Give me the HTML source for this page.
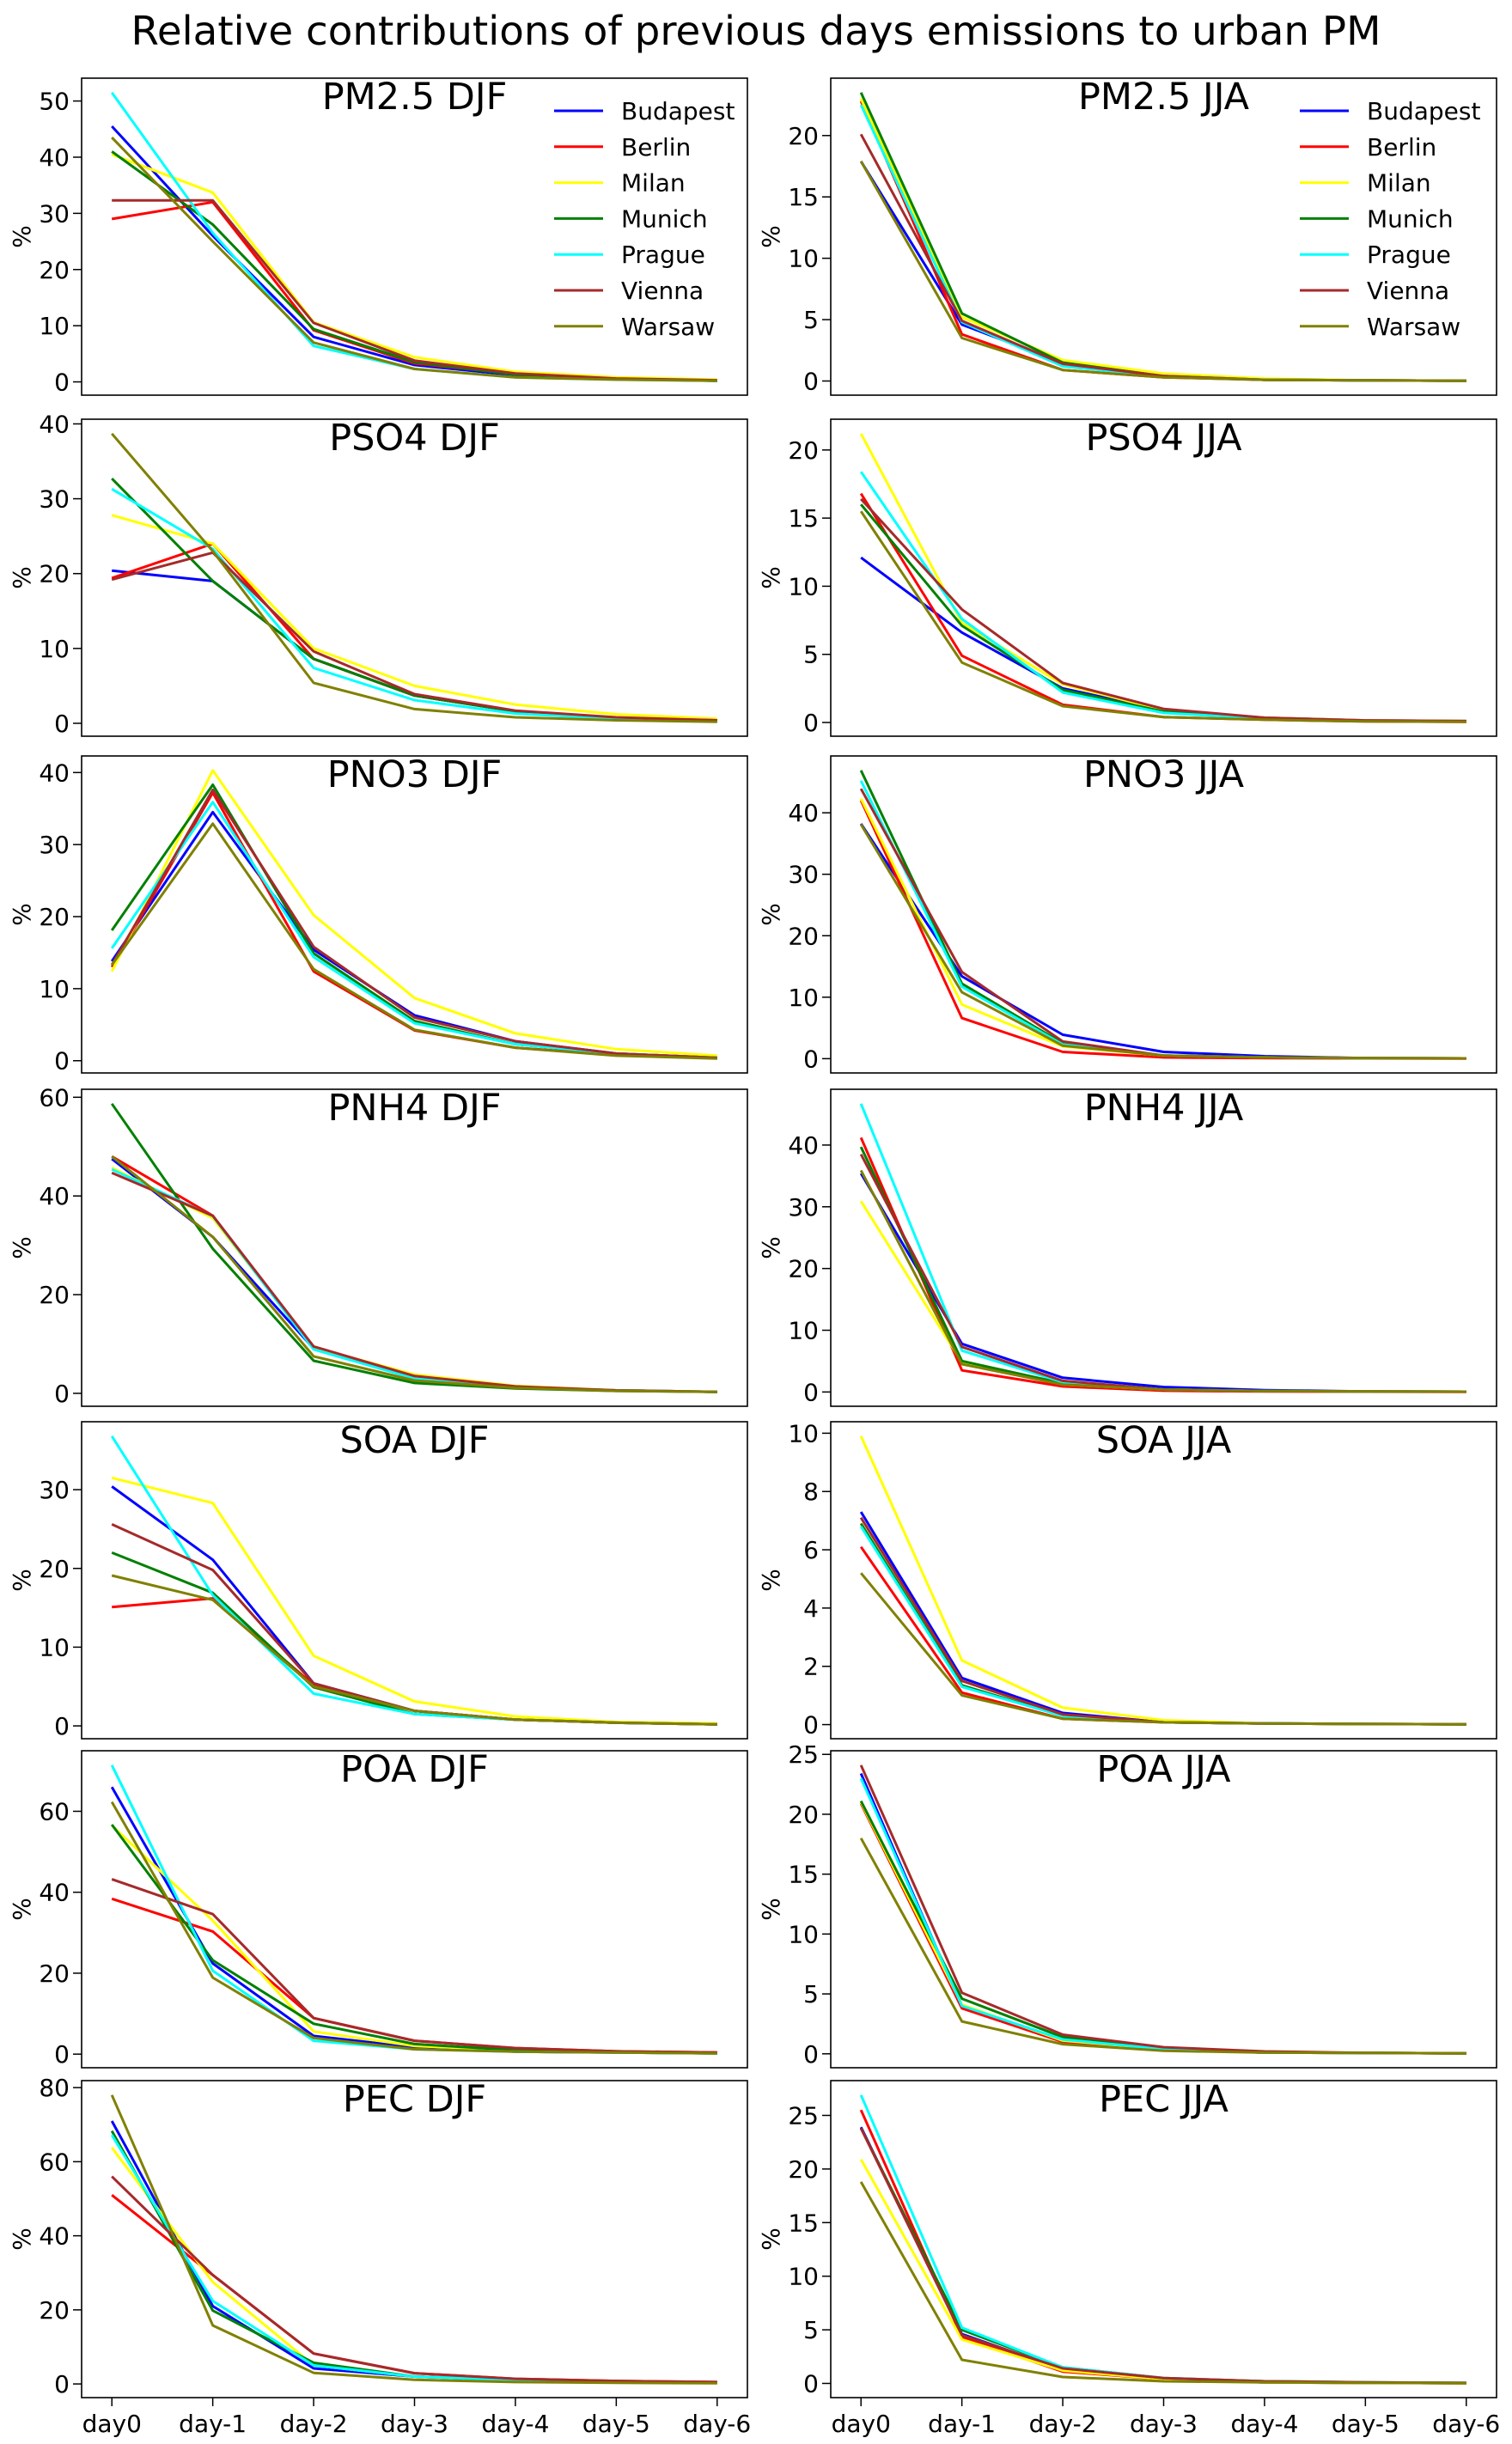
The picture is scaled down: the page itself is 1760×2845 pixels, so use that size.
<!DOCTYPE html>
<html><head><meta charset="utf-8"><title>Relative contributions</title>
<style>
html,body{margin:0;padding:0;background:#fff;}
svg{display:block;font-family:"DejaVu Sans","Liberation Sans",sans-serif;}
</style></head>
<body>
<svg id="fig" width="1760" height="2845" viewBox="0 0 1760 2845" xmlns="http://www.w3.org/2000/svg">
<rect width="1760" height="2845" fill="#fff"/>
<text x="880" y="52" font-size="46" text-anchor="middle" textLength="1455" lengthAdjust="spacingAndGlyphs">Relative contributions of previous days emissions to urban PM</text>
</svg>
<script>
const days = ["day0","day-1","day-2","day-3","day-4","day-5","day-6"];
const cities = ["Budapest","Berlin","Milan","Munich","Prague","Vienna","Warsaw"];
const cityColors = ["#0000ff","#ff0000","#ffff00","#008000","#00ffff","#a52a2a","#808000"];

// series: one row per city (Budapest, Berlin, Milan, Munich, Prague, Vienna, Warsaw), values day0..day-6
const pm25_djf = [[45.5,26,8,3,1.2,0.5,0.2],[29,32,9.2,3.3,1.4,0.6,0.3],[40.5,33.7,10.6,4.4,1.8,0.8,0.4],[41,28,9.4,3.5,1.3,0.5,0.2],[51.5,26.5,6.4,2.3,0.8,0.4,0.2],[32.3,32.3,10.5,3.8,1.5,0.6,0.3],[43.5,25,7,2.3,0.8,0.4,0.2]];
const pm25_jja = [[17.9,4.6,1.5,0.4,0.1,0.05,0.02],[22.8,3.8,0.9,0.3,0.1,0.05,0.02],[23,5.2,1.7,0.6,0.2,0.05,0.02],[23.5,5.5,1.5,0.4,0.1,0.05,0.02],[22.5,4.8,1.2,0.4,0.1,0.05,0.02],[20.1,4.9,1.4,0.4,0.1,0.05,0.02],[17.9,3.5,0.9,0.3,0.1,0.05,0.02]];
const pso4_djf = [[20.4,19,8.6,3.7,1.6,0.7,0.4],[19.4,24,8.6,3.7,1.6,0.7,0.4],[27.8,24,10,5,2.5,1.2,0.6],[32.7,19,8.6,3.7,1.6,0.7,0.4],[31.3,23.3,7.4,3.1,1.3,0.6,0.3],[19.2,22.8,9.6,3.9,1.7,0.8,0.4],[38.7,23,5.4,1.9,0.8,0.4,0.2]];
const pso4_jja = [[12.1,6.6,2.5,0.9,0.35,0.15,0.1],[16.8,4.9,1.3,0.4,0.2,0.08,0.05],[21.2,7.3,2.8,0.9,0.35,0.15,0.1],[16,7.1,2.4,0.8,0.3,0.12,0.08],[18.4,7.6,2.2,0.7,0.3,0.12,0.08],[16.4,8.3,2.9,1,0.35,0.15,0.1],[15.5,4.4,1.2,0.4,0.2,0.08,0.05]];
const pno3_djf = [[13.8,34.5,15.4,6.3,2.7,1,0.4],[13,37.2,12.4,4.2,1.8,0.8,0.4],[12.4,40.3,20.2,8.7,3.8,1.6,0.7],[18.1,38.3,14.9,5.5,2.3,1,0.4],[15.6,35.9,14.4,5.2,2.3,1,0.4],[13.3,37.6,15.8,6,2.7,1,0.4],[13.3,32.9,12.7,4.3,1.8,0.7,0.3]];
const pno3_jja = [[38.2,13.4,3.9,1.1,0.4,0.1,0.05],[42,6.6,1.1,0.2,0.1,0.05,0.02],[42.3,8.8,2,0.5,0.2,0.1,0.05],[46.9,12.2,2.5,0.5,0.2,0.1,0.05],[45.2,11.7,2.3,0.5,0.2,0.1,0.05],[43.9,14.1,2.8,0.5,0.2,0.1,0.05],[38.1,10.8,2.1,0.5,0.2,0.1,0.05]];
const pnh4_djf = [[47.5,31.7,9.1,3.3,1.3,0.6,0.3],[48,36,9.3,3.2,1.3,0.6,0.3],[45.7,35.5,9.3,3.8,1.5,0.6,0.3],[58.7,29.3,6.6,2.1,1,0.5,0.3],[45.4,35.9,8.9,3,1.2,0.6,0.3],[44.7,36,9.5,3.5,1.4,0.6,0.3],[48,31.7,7.5,2.6,1.1,0.5,0.3]];
const pnh4_jja = [[35.4,7.8,2.3,0.8,0.3,0.1,0.05],[41.2,3.5,0.9,0.2,0.1,0.05,0.02],[30.9,4.8,1.2,0.4,0.15,0.1,0.05],[39.7,5,1.4,0.4,0.15,0.1,0.05],[46.7,6.7,1.6,0.4,0.15,0.1,0.05],[38.5,7.3,1.8,0.4,0.15,0.1,0.05],[35.9,4.5,1.2,0.4,0.15,0.1,0.05]];
const soa_djf = [[30.4,21.1,5.4,1.9,0.8,0.4,0.2],[15.1,16.2,5.2,1.9,0.8,0.4,0.2],[31.5,28.3,8.9,3.1,1.2,0.5,0.3],[22,16.9,4.9,1.5,0.8,0.4,0.2],[36.8,16.6,4.1,1.5,0.8,0.4,0.2],[25.6,19.8,5.4,1.9,0.8,0.4,0.2],[19.1,16,5,1.9,0.8,0.4,0.2]];
const soa_jja = [[7.3,1.6,0.4,0.08,0.04,0.02,0.01],[6.1,1.1,0.2,0.08,0.04,0.02,0.01],[9.9,2.2,0.58,0.15,0.04,0.02,0.01],[6.9,1.35,0.3,0.08,0.04,0.02,0.01],[6.8,1.3,0.3,0.08,0.04,0.02,0.01],[7.1,1.5,0.35,0.08,0.04,0.02,0.01],[5.2,1,0.2,0.08,0.04,0.02,0.01]];
const poa_djf = [[66,22.4,4.5,1.7,0.6,0.4,0.2],[38.4,30.3,8.9,3.3,1.5,0.7,0.4],[56.5,33,5.6,2,1,0.4,0.2],[56.7,23.2,7.5,2.5,1,0.4,0.2],[71.4,20.6,3.3,1.2,0.6,0.4,0.2],[43.2,34.6,8.9,3.3,1.5,0.7,0.4],[62.3,18.9,4,1.2,0.6,0.4,0.2]];
const poa_jja = [[23.4,3.9,1.2,0.4,0.1,0.08,0.04],[20.9,3.8,1,0.4,0.1,0.08,0.04],[21,4.1,1.1,0.4,0.1,0.08,0.04],[21.1,4.6,1.4,0.4,0.1,0.08,0.04],[23,4,1.2,0.4,0.1,0.08,0.04],[24.1,5.1,1.6,0.55,0.2,0.08,0.04],[18,2.7,0.8,0.25,0.1,0.08,0.04]];
const pec_djf = [[71,21,4.2,2,1,0.5,0.3],[51,29.4,8.2,2.9,1.4,0.8,0.5],[63.8,27.5,5,2,1,0.5,0.3],[68.3,19.8,5.7,2,1,0.5,0.3],[67.2,22.4,5,2,1,0.5,0.3],[56,29.4,8.2,2.9,1.4,0.8,0.5],[78,15.8,3,1.1,0.5,0.3,0.2]];
const pec_jja = [[23.9,4.6,1.3,0.4,0.1,0.05,0.02],[25.5,4.3,1.1,0.4,0.1,0.05,0.02],[20.9,4.1,1.2,0.4,0.1,0.05,0.02],[23.8,5,1.5,0.5,0.2,0.1,0.05],[26.9,5.2,1.5,0.5,0.2,0.1,0.05],[23.8,4.5,1.4,0.5,0.2,0.1,0.05],[18.8,2.2,0.6,0.2,0.1,0.05,0.02]];

const panelTitles = ["PM2.5 DJF","PM2.5 JJA","PSO4 DJF","PSO4 JJA","PNO3 DJF","PNO3 JJA","PNH4 DJF","PNH4 JJA","SOA DJF","SOA JJA","POA DJF","POA JJA","PEC DJF","PEC JJA"];
const panelSeries = [pm25_djf,pm25_jja,pso4_djf,pso4_jja,pno3_djf,pno3_jja,pnh4_djf,pnh4_jja,soa_djf,soa_jja,poa_djf,poa_jja,pec_djf,pec_jja];
const tickSets = [[0,10,20,30,40,50],[0,5,10,15,20],[0,10,20,30,40],[0,5,10,15,20],[0,10,20,30,40],[0,10,20,30,40],[0,20,40,60],[0,10,20,30,40],[0,10,20,30],[0,2,4,6,8,10],[0,20,40,60],[0,5,10,15,20,25],[0,20,40,60,80],[0,5,10,15,20,25]];

const NS = "http://www.w3.org/2000/svg";
const svg = document.getElementById("fig");
function mk(tag, attrs, parent){
  const e = document.createElementNS(NS, tag);
  for (const k in attrs) e.setAttribute(k, attrs[k]);
  (parent||svg).appendChild(e);
  return e;
}
const rowTops = [91,488,880,1268,1655,2038,2422];
const axH = 369, axW = 775;
const colLefts = [95,967];

panelSeries.forEach((series, p) => {
  const row = Math.floor(p/2), col = p%2;
  const L = colLefts[col], T = rowTops[row], B = T+axH, R = L+axW;
  let mn = Infinity, mx = -Infinity;
  series.forEach(s => s.forEach(v => { mn = Math.min(mn,v); mx = Math.max(mx,v); }));
  const rng = mx - mn, y0 = mn - 0.05*rng, y1 = mx + 0.05*rng;
  const xScale = i => L + (i + 0.3) * axW / 6.6;
  const yScale = v => B - (v - y0) / (y1 - y0) * axH;

  const g = mk("g", {});
  
  

  series.forEach((s, c) => {
    const pts = s.map((v,i) => xScale(i).toFixed(1)+","+yScale(v).toFixed(1)).join(" ");
    const pl = mk("polyline", {points: pts, fill: "none", stroke: cityColors[c], "stroke-width": 3, "stroke-linejoin": "round"}, g);
    
    
  });

  const frame = mk("rect", {x: L, y: T, width: axW, height: axH, fill: "none", stroke: "#000", "stroke-width": 1.6}, g);
  
  

  tickSets[p].forEach(t => {
    const y = yScale(t);
    mk("line", {x1: L-10, x2: L, y1: y, y2: y, stroke: "#000", "stroke-width": 1.5}, g);
    const tl = mk("text", {x: L-14, y: y+10, "font-size": 28, "text-anchor": "end"}, g);
    tl.textContent = t;
    
    
  });

  const yl = mk("text", {x: 0, y: 0, "font-size": 28, "text-anchor": "middle", transform: "translate(" + (L-60) + "," + (T+axH/2) + ") rotate(-90)"}, g);
  yl.textContent = "%";
  
  

  const tt = mk("text", {x: (L+R)/2, y: T+36, "font-size": 43, "text-anchor": "middle"}, g);
  tt.textContent = panelTitles[p];
  
  

  if (row === 6) {
    days.forEach((d,i) => {
      const x = xScale(i);
      mk("line", {x1: x, x2: x, y1: B, y2: B+10, stroke: "#000", "stroke-width": 1.5}, g);
      const xl = mk("text", {x: x, y: B+40, "font-size": 28, "text-anchor": "middle"}, g);
      xl.textContent = d;
      
      
    });
  }

  if (row === 0) {
    const lx = col === 0 ? 645 : 1513;
    const leg = mk("g", {}, g);
    
    
    cities.forEach((cn, c) => {
      const y = 129 + c*41.8;
      const e = mk("g", {}, leg);
      
      
      mk("line", {x1: lx, x2: lx+57, y1: y, y2: y, stroke: cityColors[c], "stroke-width": 3}, e);
      const lt = mk("text", {x: lx+78, y: y+10, "font-size": 28}, e);
      lt.textContent = cn;
    });
  }
});
</script>
</body></html>
